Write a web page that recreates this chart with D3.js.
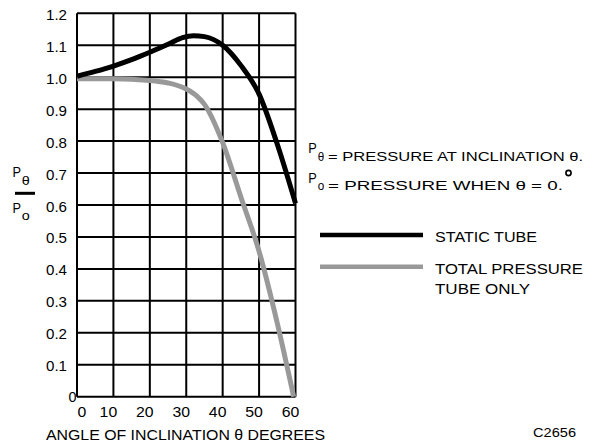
<!DOCTYPE html>
<meta charset="utf-8">
<script src="https://d3js.org/d3.v7.min.js"></script>
<style>
  body { margin: 0; background: #fff; }
  text { font-family: "Liberation Sans", Arial, sans-serif; fill: #000; }
</style>
<div id="chart"></div>
<script>
    // angle (deg) vs P_theta / P_o
    const staticAngle = [0, 5, 10, 15, 20, 25, 29, 32, 35, 40, 45, 50, 55, 60];
    const staticRatio = [1.003, 1.018, 1.035, 1.055, 1.078, 1.103, 1.124, 1.13, 1.127, 1.1, 1.037, 0.947, 0.79, 0.605];
    const totalAngle = [0, 10, 20, 25, 30, 33, 35, 40, 45, 50, 55, 59.5];
    const totalRatio = [0.995, 0.995, 0.99, 0.982, 0.963, 0.94, 0.915, 0.795, 0.625, 0.455, 0.23, 0.0];
    const xTicks = [0, 10, 20, 30, 40, 50, 60];
    const yTicks = [0.1, 0.2, 0.3, 0.4, 0.5, 0.6, 0.7, 0.8, 0.9, 1.0, 1.1, 1.2];

    const width = 597, height = 443;
    const svg = d3.select("#chart")
      .append("svg")
        .attr("width", width)
        .attr("height", height);

    const x = d3.scaleLinear().domain([0, 60]).range([77, 295.5]);
    const y = d3.scaleLinear().domain([0, 1.2]).range([396.7, 13.3]);

    // grid
    const grid = svg.append("g").attr("stroke", "#000").attr("stroke-width", 2);
    grid.selectAll("line.v")
      .data(xTicks)
      .join("line")
        .attr("x1", d => x(d)).attr("x2", d => x(d))
        .attr("y1", y(0)).attr("y2", y(1.2));
    grid.selectAll("line.h")
      .data([0].concat(yTicks))
      .join("line")
        .attr("x1", x(0)).attr("x2", x(60))
        .attr("y1", d => y(d)).attr("y2", d => y(d));

    // text helper, letters in the figure are set wide
    function label(str, px, py, size, len, anchor) {
      const t = svg.append("text")
        .attr("x", px).attr("y", py)
        .attr("font-size", size)
        .attr("text-anchor", anchor || "start")
        .text(str);
      if (len) t.attr("textLength", len).attr("lengthAdjust", "spacingAndGlyphs");
      return t;
    }

    // y tick labels
    yTicks.forEach(v => {
      label(d3.format(".1f")(v), 67, y(v) + 6.5, 14, 21, "end");
    });
    label("0", 76.5, 401.5, 14, 8, "end");

    // x tick labels
    xTicks.forEach(v => {
      const s = String(v);
      label(s, x(v) + (v === 0 ? 5 : -5), 417, 14, s.length * 8.8, "middle");
    });

    label("ANGLE OF INCLINATION \u03b8 DEGREES", 46, 440, 14, 279);

    // y axis title as a fraction
    label("P", 12.5, 176.7, 14, 8.5);
    label("\u03b8", 21.7, 185, 13, 8);
    svg.append("line")
      .attr("x1", 15).attr("x2", 35).attr("y1", 193.3).attr("y2", 193.3)
      .attr("stroke", "#000").attr("stroke-width", 3);
    label("P", 12.5, 213.3, 14, 8.5);
    label("o", 21.7, 220, 13, 8);

    // curves
    const line = d3.line()
      .curve(d3.curveMonotoneX)
      .x(d => x(d[0]))
      .y(d => y(d[1]));

    svg.append("path")
      .datum(d3.zip(totalAngle, totalRatio))
      .attr("fill", "none")
      .attr("stroke", "#999")
      .attr("stroke-width", 5)
      .attr("d", line);

    svg.append("path")
      .datum(d3.zip(staticAngle, staticRatio))
      .attr("fill", "none")
      .attr("stroke", "#000")
      .attr("stroke-width", 5)
      .attr("d", line);

    // notes
    label("P", 308.3, 153.3, 14, 8.5);
    label("\u03b8", 317.8, 161, 12, 6.5);
    label("= PRESSURE AT INCLINATION \u03b8.", 328, 160.7, 13.5, 255);
    label("P", 308.3, 182.7, 14, 8.5);
    label("o", 317.8, 190, 12, 6.5);
    label("= PRESSURE WHEN \u03b8  = 0.", 328, 190, 13.5, 235);
    svg.append("circle")
      .attr("cx", 568.5).attr("cy", 173).attr("r", 2.6)
      .attr("fill", "none").attr("stroke", "#000").attr("stroke-width", 1.6);

    // legend
    svg.append("line")
      .attr("x1", 320).attr("x2", 423).attr("y1", 235).attr("y2", 235)
      .attr("stroke", "#000").attr("stroke-width", 4.5);
    label("STATIC TUBE", 435, 242.3, 14, 102);
    svg.append("line")
      .attr("x1", 320).attr("x2", 423).attr("y1", 266.7).attr("y2", 266.7)
      .attr("stroke", "#999").attr("stroke-width", 4.5);
    label("TOTAL PRESSURE", 435, 274.3, 14, 148);
    label("TUBE ONLY", 435, 294.3, 14, 95);

    label("C2656", 533, 436.7, 12.5, 43);
</script>
